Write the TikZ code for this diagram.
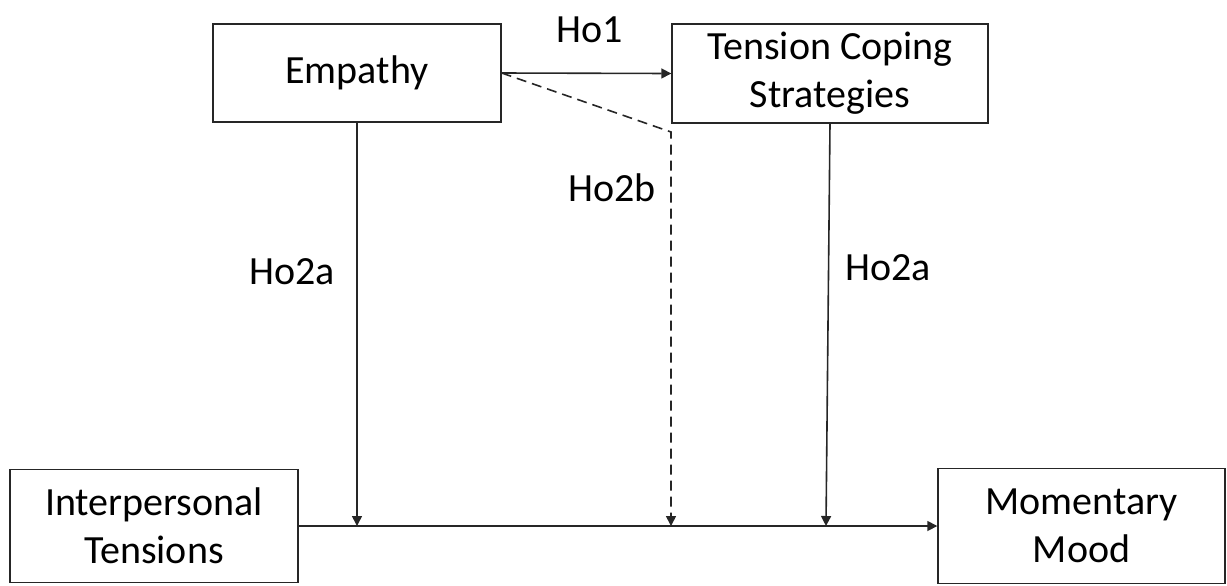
\documentclass[tikz,border=0pt]{standalone}
\usepackage{fontspec}
\setmainfont{Carlito}
\usetikzlibrary{arrows.meta}

\begin{document}
\begin{tikzpicture}[x=0.5pt, y=-0.5pt,
    box/.style={draw=black!85, line width=0.7pt, align=center, inner sep=0pt},
    link/.style={draw=black!85, line width=0.8pt, -{Triangle[length=5pt,width=5pt]}}]
\tikzset{every node/.style={font=\fontsize{20}{24}\selectfont}}
%\tikzset{every node/.style={shape=rectangle,
%                            font=\sffamily\Large
%                           }}
\useasboundingbox (0,0) rectangle (1227,585);
\node[box, minimum width=144pt, minimum height=49pt] (empathy) at (357,73) {Empathy};
\node[box, minimum width=158pt, minimum height=49.5pt] (coping) at (830,73.5) {Tension Coping\\Strategies};
\node[box, minimum width=144pt, minimum height=56.5pt] (tensions) at (154,526) {Interpersonal\\Tensions};
\node[box, minimum width=143.5pt, minimum height=57.5pt] (mood) at (1081.5,526) {Momentary\\Mood};

\coordinate (jEmp) at (357,526);
\coordinate (jBend) at (671,132);
\coordinate (jDash) at (671,526);
\coordinate (jCop) at (826,526);

\path[link] (tensions.east) -- (mood.west);
\path[link] (empathy.east) -- (coping.west);
\path[link] (empathy.south) -- (jEmp);
\path[link] (coping.south) -- (jCop);
\path[link, dash pattern=on 5pt off 3pt] (empathy.east) -- (jBend) -- (jDash);

\node (ho1) at (590,30) {Ho1};
\node (ho2b) at (612,188) {Ho2b};
\node (ho2aLeft) at (292,272) {Ho2a};
\node (ho2aRight) at (888,268) {Ho2a};
\end{tikzpicture}
\end{document}
